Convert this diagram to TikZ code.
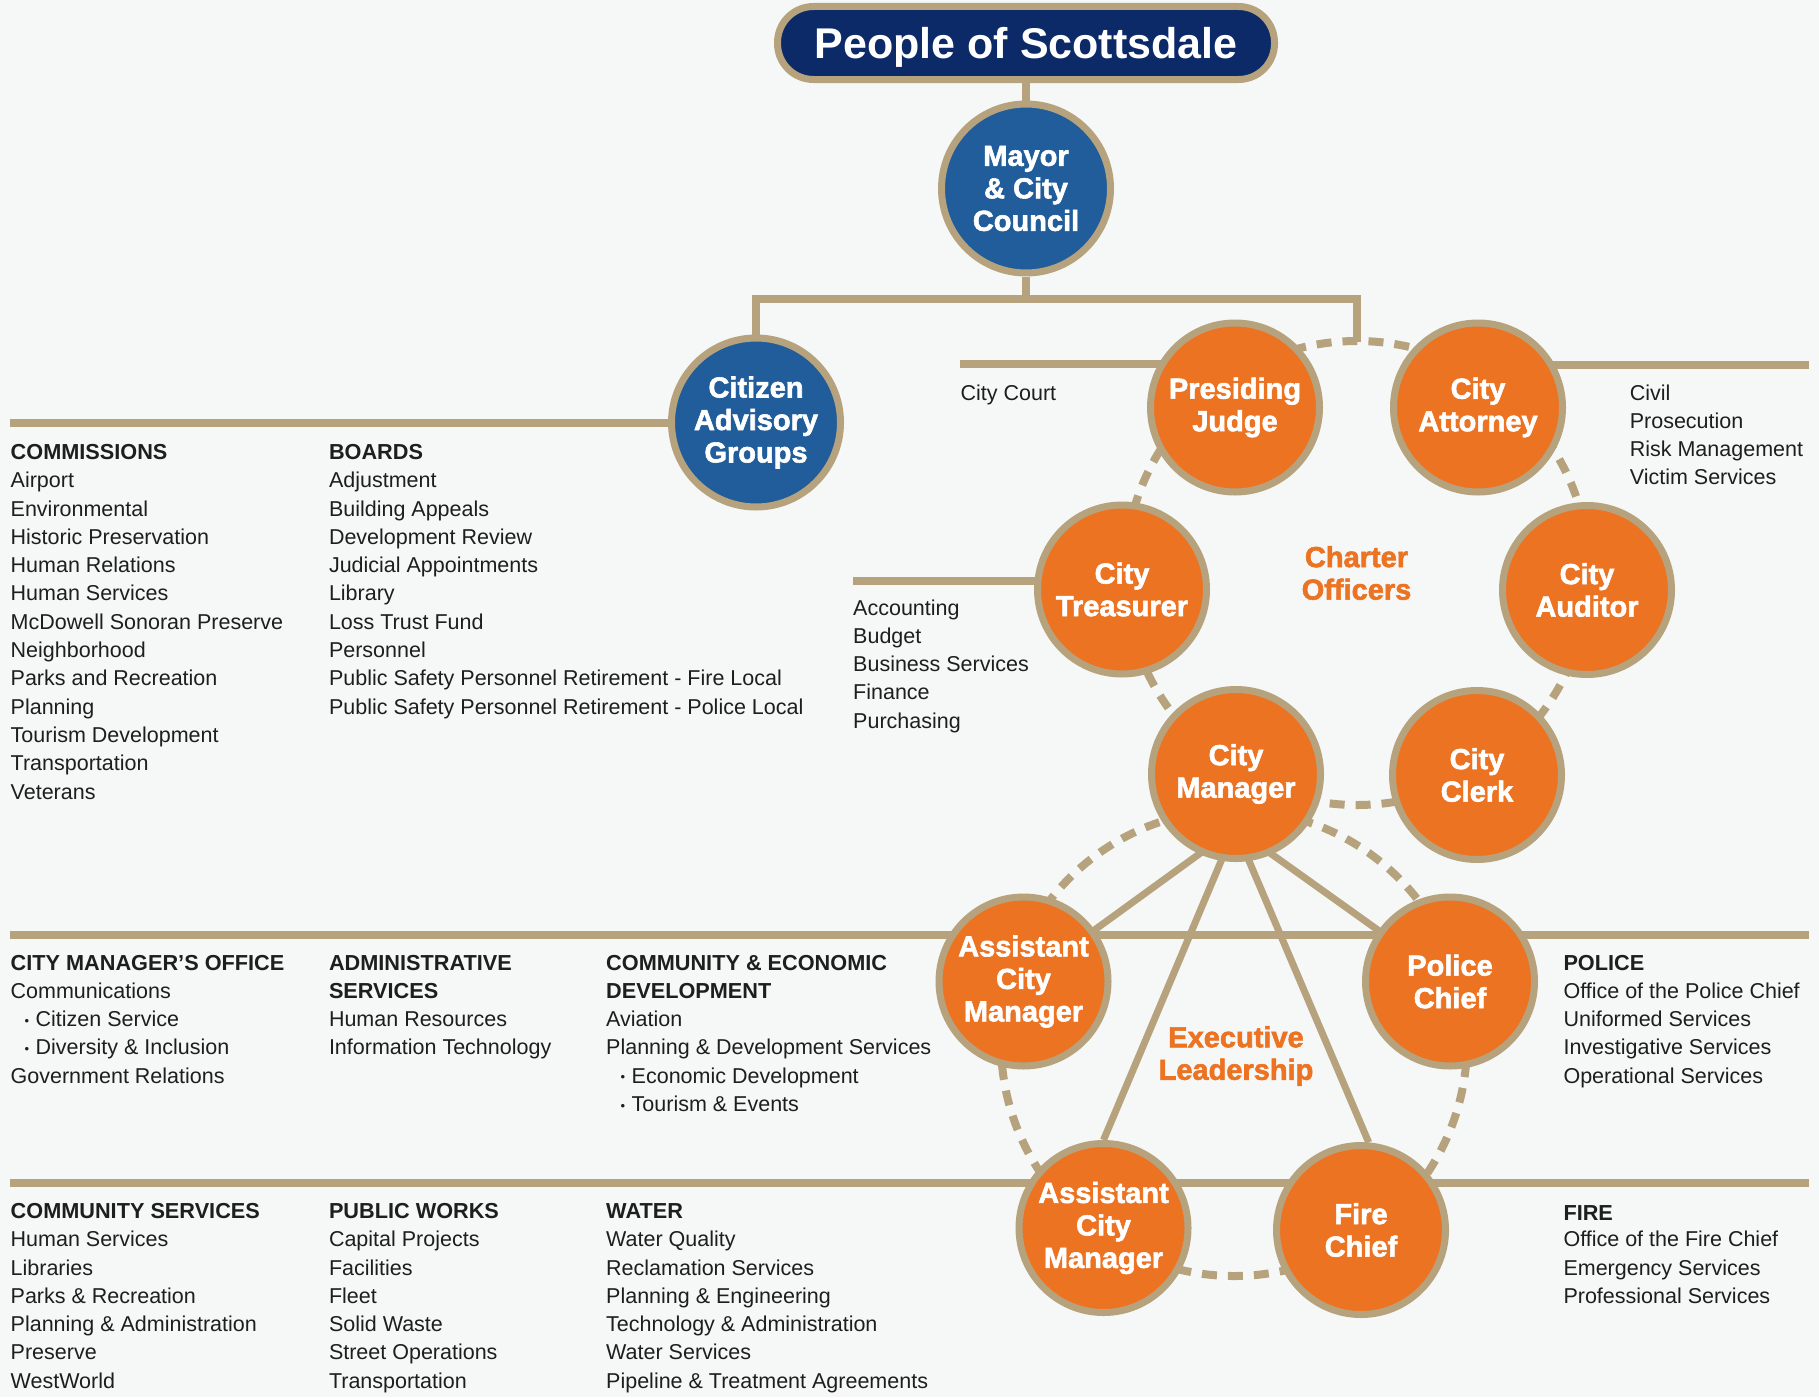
\documentclass[tikz,border=0pt]{standalone}
\usepackage{fontspec}
\setmainfont{Liberation Sans}
\newfontfamily\heavy{Liberation Sans}[BoldFeatures={FakeBold=2}]
\usetikzlibrary{calc}
\definecolor{goldc}{RGB}{182,163,126}
\definecolor{orng}{RGB}{236,115,34}
\definecolor{bluc}{RGB}{33,93,154}
\definecolor{navyc}{RGB}{12,41,104}
\definecolor{txtc}{RGB}{30,30,30}
\definecolor{bgc}{RGB}{246,247,247}
\pgfdeclarelayer{back}
\pgfsetlayers{back,main}
\newcommand\blt{\makebox[11pt][l]{\raisebox{1.5pt}{\fontsize{13}{13}\selectfont •}}}
\newcommand\itemcol[4]{%
  \foreach \t [count=\i from 0] in {#4}
    \node[body] (#1\i) at (#2,{#3+28.3*\i}) {\t};}
\tikzset{
  conn/.style={draw=goldc, line width=8},
  spoke/.style={draw=goldc, line width=7},
  dashring/.style={draw=goldc, line width=8, dash pattern=on 15pt off 11pt},
  orgc/.style={circle, fill=orng, draw=goldc, line width=7, minimum size=169,
    inner sep=0, text=white, align=center,
    font=\heavy\bfseries\fontsize{29}{32.5}\selectfont},
  bluec/.style={orgc, fill=bluc},
  titlebox/.style={rectangle, rounded corners=36pt, fill=navyc, draw=goldc,
    line width=7, minimum width=497, minimum height=73, inner sep=0,
    text depth=0pt, text=white, font=\bfseries\fontsize{43}{43}\selectfont},
  grouplabel/.style={inner sep=0, align=center, text=orng,
    font=\heavy\bfseries\fontsize{29}{32.5}\selectfont},
  body/.style={anchor=base west, inner sep=0, text=txtc,
    font=\fontsize{21.5}{28.3}\selectfont},
  head/.style={body, font=\bfseries\fontsize{21.7}{28.3}\selectfont},
}
\begin{document}
\begin{tikzpicture}[x=1pt, y=-1pt]
\useasboundingbox (0,0) rectangle (1819,1397);

% ---- nodes ----
\node[titlebox] (people) at (1026,43) {People of Scottsdale};
\node[bluec] (mayor) at (1026,188.5) {Mayor\\\& City\\Council};
\node[bluec] (cag) at (756,422.5) {Citizen\\Advisory\\Groups};
\node[orgc] (pj) at (1235,407.5) {Presiding\\Judge};
\node[orgc] (ca) at (1478,407.5) {City\\Attorney};
\node[orgc] (ct) at (1122,589.5) {City\\Treasurer};
\node[orgc] (au) at (1587,590) {City\\Auditor};
\node[orgc] (cm) at (1236,774) {City\\Manager};
\node[orgc] (ck) at (1477,775) {City\\Clerk};
\node[orgc] (acm1) at (1023.5,981.5) {Assistant\\City\\Manager};
\node[orgc] (pc) at (1450,981.5) {Police\\Chief};
\node[orgc] (acm2) at (1103.5,1228) {Assistant\\City\\Manager};
\node[orgc] (fc) at (1361,1230) {Fire\\Chief};

\node[grouplabel] (charter) at (1356.5,573) {Charter\\Officers};
\node[grouplabel] (exec) at (1236,1056) {Executive\\Leadership};

% ---- connector coordinates ----
\coordinate (jm) at (1026,299);
\coordinate (jl) at (756,299);
\coordinate (jr) at (1357,299);
\coordinate (ringtop) at (1357,342);
\coordinate (ringA) at (1357,573);
\coordinate (ringB) at (1234,1043);
\coordinate (hub) at (1235,828);
\coordinate (cagL) at (9.6,423);
\coordinate (courtL) at (960,364);
\coordinate (attyR) at (1809,365);
\coordinate (treasL) at (853,581);
\coordinate (sepAL) at (9.6,935);
\coordinate (sepAR) at (1809,935);
\coordinate (sepBL) at (9.6,1183);
\coordinate (sepBR) at (1809,1183);

\begin{pgfonlayer}{back}
  \fill[bgc] (0,0) rectangle (1819,1397);
  \draw[conn] (people) -- (mayor);
  \draw[conn] (mayor) -- (jm);
  \draw[conn] (cag) -- (jl) -- (jr) -- (ringtop);
  \draw[conn] (cagL) -- (cagL -| cag);
  \draw[conn] (courtL) -- (courtL -| pj);
  \draw[conn] (attyR -| ca) -- (attyR);
  \draw[conn] (treasL) -- (treasL -| ct);
  \draw[conn] (sepAL) -- (sepAR);
  \draw[conn] (sepBL) -- (sepBR);
  \draw[dashring] (ringA) circle [radius=232pt];
  \draw[dashring] (ringB) circle [radius=233pt];
  \draw[spoke] (hub) -- (acm1.center);
  \draw[spoke] (hub) -- (pc.center);
  \draw[spoke] (hub) -- (acm2.north);
  \draw[spoke] (hub) -- (fc.85);
\end{pgfonlayer}

% ---- texts ----
\node[head] (hcom) at (10.5,459.3) {COMMISSIONS};
\itemcol{com}{10.5}{487.7}{Airport,Environmental,Historic Preservation,Human Relations,Human Services,McDowell Sonoran Preserve,Neighborhood,Parks and Recreation,Planning,Tourism Development,Transportation,Veterans}
\node[head] (hbrd) at (328.8,459.3) {BOARDS};
\itemcol{brd}{328.8}{487.7}{Adjustment,Building Appeals,Development Review,Judicial Appointments,Library,Loss Trust Fund,Personnel,Public Safety Personnel Retirement - Fire Local,Public Safety Personnel Retirement - Police Local}

\node[body] (court) at (960.4,400.7) {City Court};
\itemcol{atty}{1629.6}{400}{Civil,Prosecution,Risk Management,Victim Services}
\itemcol{tre}{853}{615}{Accounting,Budget,Business Services,Finance,Purchasing}

\node[head] (hcmo) at (10.5,970) {CITY MANAGER’S OFFICE};
\itemcol{cmo}{10.5}{998.3}{Communications}
\itemcol{cmob}{24.5}{1026.6}{\blt Citizen Service,\blt Diversity \& Inclusion}
\node[body] (cmo3) at (10.5,1083.2) {Government Relations};

\node[head] (hadm1) at (328.8,970) {ADMINISTRATIVE};
\node[head] (hadm2) at (328.8,998.3) {SERVICES};
\itemcol{adm}{328.8}{1026.6}{Human Resources,Information Technology}

\node[head] (hced1) at (606,970) {COMMUNITY \& ECONOMIC};
\node[head] (hced2) at (606,998.3) {DEVELOPMENT};
\itemcol{ced}{606}{1026.6}{Aviation,Planning \& Development Services}
\itemcol{cedb}{620.5}{1083.2}{\blt Economic Development,\blt Tourism \& Events}

\node[head] (hpol) at (1563.3,970.7) {POLICE};
\itemcol{pol}{1563.3}{998.3}{Office of the Police Chief,Uniformed Services,Investigative Services,Operational Services}

\node[head] (hcs) at (10.5,1218.3) {COMMUNITY SERVICES};
\itemcol{cs}{10.5}{1246.7}{Human Services,Libraries,Parks \& Recreation,Planning \& Administration,Preserve,WestWorld}
\node[head] (hpw) at (328.8,1218.3) {PUBLIC WORKS};
\itemcol{pw}{328.8}{1246.7}{Capital Projects,Facilities,Fleet,Solid Waste,Street Operations,Transportation}
\node[head] (hwat) at (606,1218.3) {WATER};
\itemcol{wat}{606}{1246.7}{Water Quality,Reclamation Services,Planning \& Engineering,Technology \& Administration,Water Services,Pipeline \& Treatment Agreements}
\node[head] (hfire) at (1563.3,1220) {FIRE};
\itemcol{fire}{1563.3}{1246.7}{Office of the Fire Chief,Emergency Services,Professional Services}
\end{tikzpicture}
\end{document}
